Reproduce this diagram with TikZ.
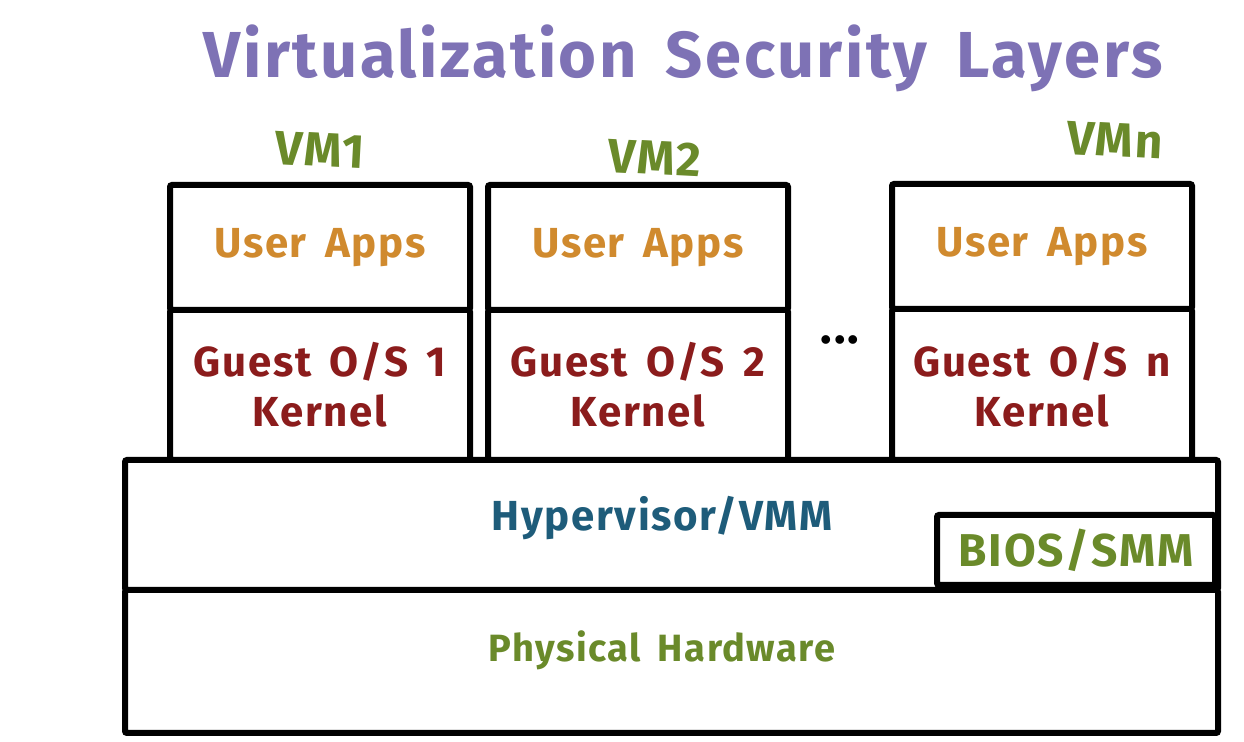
\documentclass[tikz,border=0pt]{standalone}
\usepackage{fontspec}
\setmainfont{Fira Sans}[LetterSpace=4,WordSpace=1.6]
\definecolor{titlec}{HTML}{7E72B5}
\definecolor{appc}{HTML}{D08A2E}
\definecolor{osc}{HTML}{8B1C1C}
\definecolor{hvc}{HTML}{1E5C7A}
\definecolor{grn}{HTML}{6A8A2A}
\begin{document}
\begin{tikzpicture}[x=0.5pt,y=-0.5pt,
  box/.style={draw=black,line width=3pt,rounded corners=1pt,inner sep=0pt,fill=white},
  lbl/.style={font=\fontsize{21}{25}\selectfont\bfseries},
  apps/.style={lbl,text=appc},
  os/.style={lbl,text=osc,align=center},
  vmlab/.style={text=grn,font=\fontsize{24}{26}\selectfont\bfseries}]
\useasboundingbox (0,0) rectangle (1244,742);
\node[text=titlec,font=\fontsize{32.5}{38}\selectfont\bfseries] (title) at (683,58) {Virtualization Security Layers};
% hardware and hypervisor
\node[box,minimum width=546.5pt,minimum height=71.5pt] (hw) at (671.5,661.5) {};
\node[text=grn,font=\fontsize{19}{23}\selectfont\bfseries] (hwt) at (662,650) {Physical Hardware};
\node[box,minimum width=546.5pt,minimum height=65pt] (hv) at (671.5,525) {};
\node[lbl,text=hvc] (hvt) at (662,518) {Hypervisor/VMM};
\node[box,minimum width=139pt,minimum height=35pt,text=grn,font=\fontsize{23}{25}\selectfont\bfseries] (bios) at (1076,550) {BIOS/SMM};
% VM 1
\node[box,minimum width=150pt,minimum height=75pt,os] (os1) at (320,385) {Guest O/S 1\\Kernel};
\node[box,minimum width=150pt,minimum height=62.5pt,apps] (ua1) at (320,247.5) {\raisebox{-2pt}{User Apps}};
% VM 2
\node[box,minimum width=150pt,minimum height=75pt,os] (os2) at (638,385) {Guest O/S 2\\Kernel};
\node[box,minimum width=150pt,minimum height=62.5pt,apps] (ua2) at (638,247.5) {\raisebox{-2pt}{User Apps}};
% VM n
\node[box,minimum width=150pt,minimum height=75.5pt,os] (osn) at (1042,384.5) {Guest O/S n\\Kernel};
\node[box,minimum width=150pt,minimum height=62.5pt,apps] (uan) at (1042,246.5) {\raisebox{-2pt}{User Apps}};
% dots
\node[font=\fontsize{24}{24}\selectfont\bfseries] (dots) at (840,340) {...};
% VM labels
\node[vmlab,rotate=-3] (vm1) at (320,150) {VM1};
\node[vmlab,rotate=-3] (vm2) at (655,158) {VM2};
\node[vmlab,rotate=-3] (vmn) at (1115,140) {VMn};
\end{tikzpicture}
\end{document}
